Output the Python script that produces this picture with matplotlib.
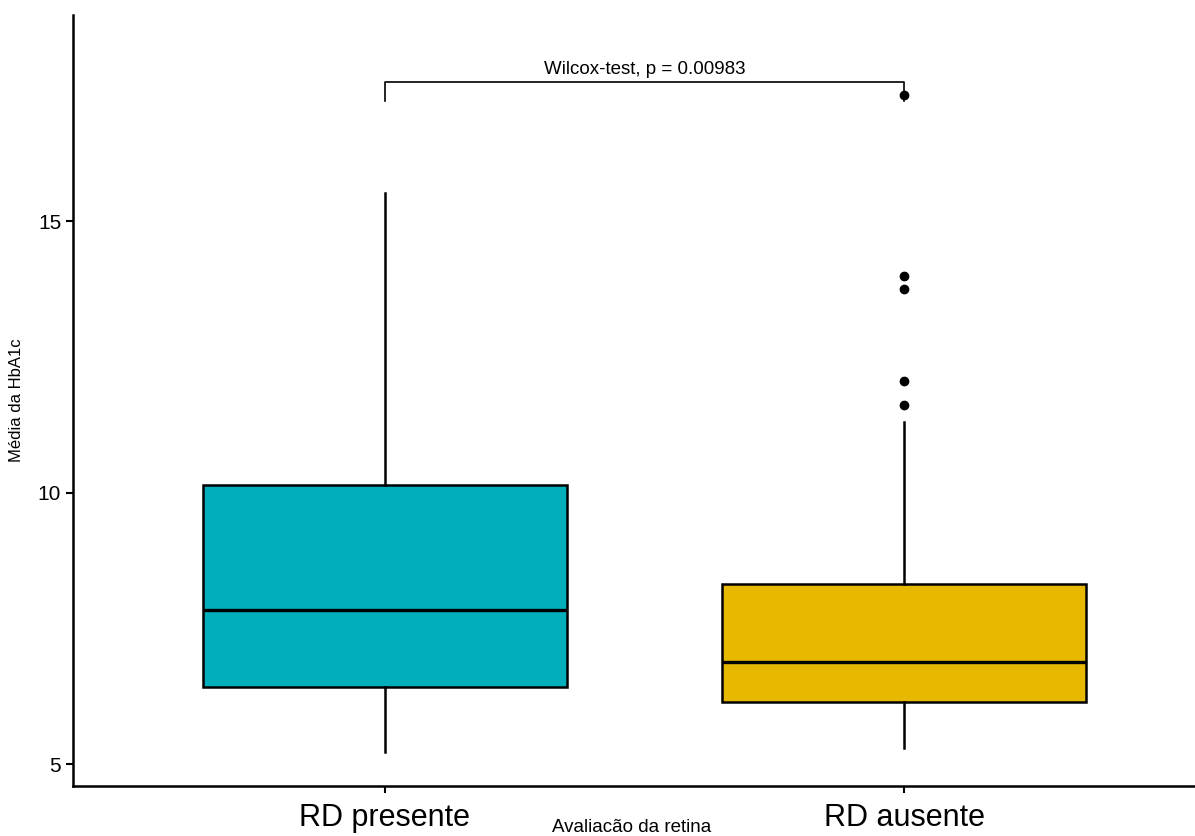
import matplotlib.pyplot as plt

plt.rcParams['font.family'] = ['Liberation Sans', 'DejaVu Sans']

# HbA1c summary per group (whisker low, Q1, median, Q3, whisker high)
groups = ['RD presente', 'RD ausente']
whislo = [5.22, 5.29]
q1 = [6.42, 6.14]
med = [7.84, 6.88]
q3 = [10.13, 8.31]
whishi = [15.52, 11.29]
fliers = [[], [11.61, 12.05, 13.75, 13.99, 17.32]]
colors = ['#00AFBB', '#E7B800']

p_label = 'Wilcox-test, p = 0.00983'
bracket_y = 17.56
bracket_drop = 17.21

stats = []
for i in range(len(groups)):
    stats.append({'whislo': whislo[i], 'q1': q1[i], 'med': med[i],
                  'q3': q3[i], 'whishi': whishi[i], 'fliers': fliers[i]})

fig = plt.figure(figsize=(11.95, 8.36), dpi=100)
ax = fig.add_axes([0.0611, 0.0598, 0.9565, 0.922])

pos = [1, 2]
bp = ax.bxp(stats, positions=pos, widths=0.7, patch_artist=True,
            showcaps=False,
            boxprops=dict(linewidth=1.8, edgecolor='black'),
            medianprops=dict(color='black', linewidth=2.4),
            whiskerprops=dict(color='black', linewidth=1.8),
            flierprops=dict(marker='o', markerfacecolor='black',
                            markeredgecolor='black', markersize=6))
for patch, c in zip(bp['boxes'], colors):
    patch.set_facecolor(c)

# comparison bracket
ax.plot([1, 1, 2, 2], [bracket_drop, bracket_y, bracket_y, bracket_drop],
        color='black', linewidth=1.2)
ax.text(1.5, bracket_y + 0.08, p_label, ha='center', va='bottom', fontsize=13.5)

ax.set_xlim(0.4, 2.6)
ax.set_ylim(4.595, 18.79)
ax.set_yticks([5, 10, 15])
ax.set_xticks(pos)
ax.set_xticklabels(groups, fontsize=22)
ax.tick_params(axis='y', labelsize=15, length=5, width=1.5)
ax.tick_params(axis='x', length=5, width=1.5, pad=7)

for s in ['top', 'right']:
    ax.spines[s].set_visible(False)
for s in ['left', 'bottom']:
    ax.spines[s].set_linewidth(1.8)

ax.set_ylabel('Média da HbA1c', fontsize=12, labelpad=10)
fig.text(632 / 1195, 1 - 828 / 836, 'Avaliacão da retina', ha='center',
         va='center', fontsize=13.5)

fig.savefig('out.png', dpi=100)
